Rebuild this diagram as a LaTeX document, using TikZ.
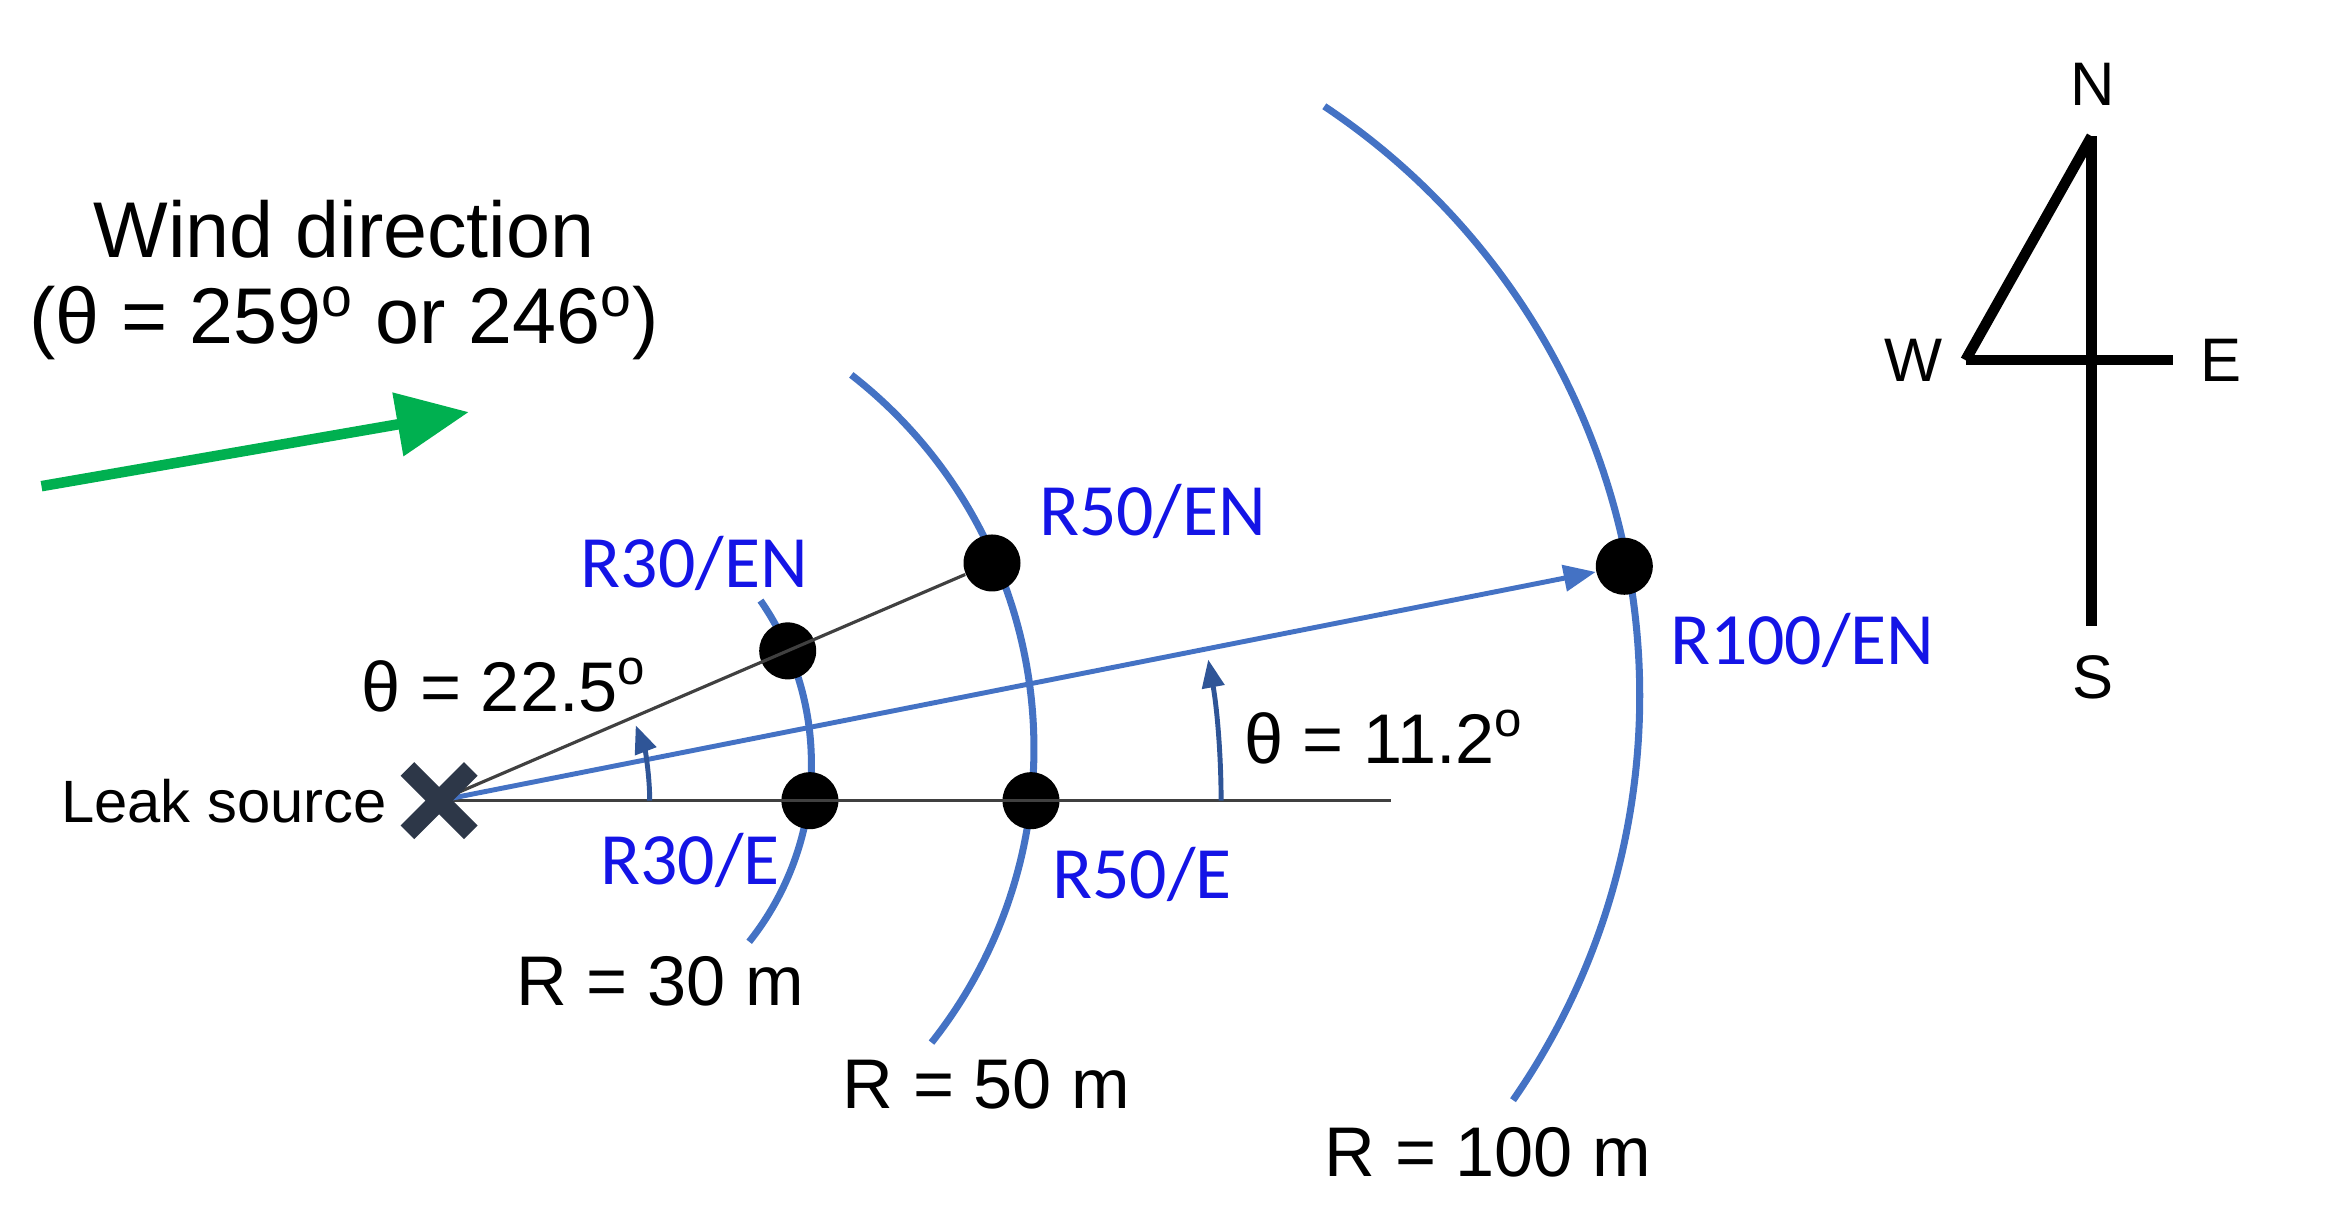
\documentclass[tikz,border=0pt]{standalone}
\usepackage{fontspec}
\setmainfont{Liberation Sans}
\newfontfamily\labelfont{Carlito}
\usetikzlibrary{arrows.meta,shapes.misc}
\definecolor{arcblue}{RGB}{68,114,196}
\definecolor{darkblue}{RGB}{47,85,151}
\definecolor{labelblue}{RGB}{20,20,230}
\definecolor{windgreen}{RGB}{0,176,80}
\definecolor{crossgray}{RGB}{45,55,72}
\tikzset{
  bigtext/.style={font=\fontsize{22.5}{27}\selectfont},
  midtext/.style={font=\fontsize{20}{24}\selectfont},
  ptlabel/.style={text=labelblue,font=\labelfont\fontsize{21}{25}\selectfont},
  compasstext/.style={font=\fontsize{17.5}{21}\selectfont}
}
\begin{document}
\begin{tikzpicture}
  \useasboundingbox (0,0) rectangle (23.26,12.22);

  \coordinate (src) at (4.391,4.213);
  \coordinate (axisend) at (13.91,4.213);

  \begin{scope}[arcblue, line width=2pt]
    \draw (7.605,6.214) arc[start angle=34.7, end angle=-38.5, radius=2.863];
    \draw (8.513,8.471) arc[start angle=52.1, end angle=-38.4, radius=4.735];
    \draw (13.243,11.157) arc[start angle=56.3, end angle=-34.8, radius=7.086];
  \end{scope}

  \begin{scope}[every node/.style={circle,fill=black,inner sep=0pt,minimum size=0.57cm}]
    \node (r30en)  at (7.877,5.711)  {};
    \node (r50en)  at (9.920,6.590)  {};
    \node (r30e)   at (8.099,4.213)  {};
    \node (r50e)   at (10.310,4.213) {};
    \node (r100en) at (16.243,6.557) {};
  \end{scope}

  \draw[black!75, line width=0.9pt] (src) -- (axisend);
  \draw[black!75, line width=0.9pt] (src) -- (r50en);
  \draw[arcblue, line width=1.4pt, -{Triangle[length=0.32cm,width=0.26cm]}] (src) -- (r100en);

  \begin{scope}[darkblue, line width=1.4pt, -{Triangle[length=0.28cm,width=0.22cm]}]
    \draw (6.497,4.213) arc[start angle=0, end angle=21, radius=2.106];
    \draw (12.211,4.213) arc[start angle=0, end angle=10.4, radius=7.82];
  \end{scope}

  \node[cross out, draw=crossgray, line width=5.5pt, minimum size=0.44cm, inner sep=0pt] (leak) at (src) {};

  \node[bigtext] (windtitle) at (3.441,9.924) {Wind direction};
  \node[bigtext] (windangle) at (3.441,8.990) {(θ = 259\textsuperscript{o} or 246\textsuperscript{o})};
  \coordinate (windtail) at (0.415,7.358);
  \coordinate (windhead) at (4.688,8.099);
  \draw[windgreen, line width=3pt, -{Triangle[length=0.72cm,width=0.62cm]}] (windtail) -- (windhead);

  \node[font=\fontsize{17}{20}\selectfont, anchor=east] (leaklabel) at (3.99,4.213) {Leak source};
  \node[midtext] (theta1) at (5.044,5.370) {θ = 22.5\textsuperscript{o}};
  \node[midtext] (theta2) at (13.840,4.851) {θ = 11.2\textsuperscript{o}};
  \node[midtext] (rad30)  at (6.601,2.403) {R = 30 m};
  \node[midtext] (rad50)  at (9.865,1.380) {R = 50 m};
  \node[midtext] (rad100) at (14.879,0.697) {R = 100 m};

  \node[ptlabel] (lr30en)  at (6.942,6.586)  {R30/EN};
  \node[ptlabel] (lr50en)  at (11.526,7.105) {R50/EN};
  \node[ptlabel] (lr100en) at (18.023,5.815) {R100/EN};
  \node[ptlabel] (lr30e)   at (6.898,3.619)  {R30/E};
  \node[ptlabel] (lr50e)   at (11.422,3.471) {R50/E};

  \coordinate (ntop) at (20.916,10.858);
  \coordinate (sbot) at (20.916,5.963);
  \coordinate (wend) at (19.655,8.618);
  \coordinate (eend) at (21.732,8.618);
  \begin{scope}[line width=3pt]
    \draw (ntop) -- (sbot);
    \draw (wend) -- (eend);
    \draw (wend) -- (ntop);
  \end{scope}
  \node[compasstext] (north) at (20.931,11.378) {N};
  \node[compasstext] (west)  at (19.136,8.618)  {W};
  \node[compasstext] (east)  at (22.206,8.618)  {E};
  \node[compasstext] (south) at (20.931,5.444)  {S};
\end{tikzpicture}
\end{document}
